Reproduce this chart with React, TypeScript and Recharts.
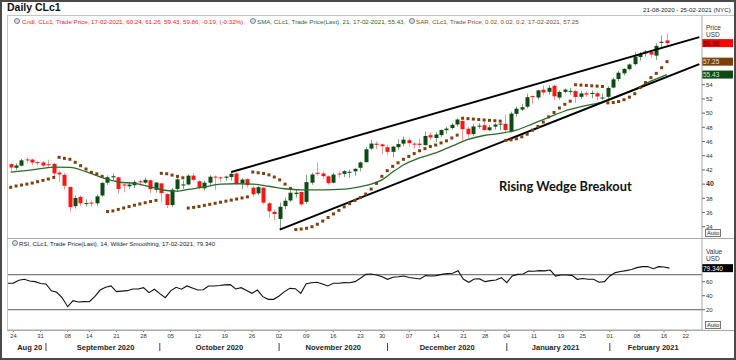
import React from "react";
import { Bar, ComposedChart, Line, ReferenceLine, XAxis, YAxis } from "recharts";

const FONT = '"Liberation Sans", Arial, sans-serif';

// trading days shown on the axis (last six are empty slots up to 25-02)
const AUG_20 = [21, 24, 25, 26, 27, 28, 31];
const SEP_20 = [1, 2, 3, 4, 8, 9, 10, 11, 14, 15, 16, 17, 18, 21, 22, 23, 24, 25, 28, 29, 30];
const OCT_20 = [1, 2, 5, 6, 7, 8, 9, 12, 13, 14, 15, 16, 19, 20, 21, 22, 23, 26, 27, 28, 29, 30];
const NOV_20 = [2, 3, 4, 5, 6, 9, 10, 11, 12, 13, 16, 17, 18, 19, 20, 23, 24, 25, 27, 30];
const DEC_20 = [1, 2, 3, 4, 7, 8, 9, 10, 11, 14, 15, 16, 17, 18, 21, 22, 23, 24, 28, 29, 30, 31];
const JAN_21 = [4, 5, 6, 7, 8, 11, 12, 13, 14, 15, 19, 20, 21, 22, 25, 26, 27, 28, 29];
const FEB_21 = [1, 2, 3, 4, 5, 8, 9, 10, 11, 12, 16, 17, 18, 19, 22, 23, 24, 25];

const pad = (n: number) => (n < 10 ? "0" + n : "" + n);
const DATES = [
  ...AUG_20.map((d) => `2020-08-${pad(d)}`),
  ...SEP_20.map((d) => `2020-09-${pad(d)}`),
  ...OCT_20.map((d) => `2020-10-${pad(d)}`),
  ...NOV_20.map((d) => `2020-11-${pad(d)}`),
  ...DEC_20.map((d) => `2020-12-${pad(d)}`),
  ...JAN_21.map((d) => `2021-01-${pad(d)}`),
  ...FEB_21.map((d) => `2021-02-${pad(d)}`),
];

const OPEN = [
  42.82, 42.3, 42.6, 43.48, 43.45, 43.1, 43.05, 42.8, 42.85, 41.62, 41.3, 39.6, 36.9, 38.2, 37.2, 37.4, 37.3, 38.4,
  40.2, 40.95, 40.95, 39.95, 39.7, 39.85, 40.4, 40.2, 40.55, 39.2, 40.1, 38.6, 37.05, 39.3, 39.8, 39.95, 41.2, 40.4,
  39.4, 40.2, 41.05, 40.95, 40.9, 41.0, 41.5, 40.1, 40.7, 39.5, 38.7, 39.5, 37.3, 36.1, 35.1, 36.9, 37.7, 38.6, 38.9,
  37.5, 40.2, 41.6, 41.5, 41.1, 40.2, 41.5, 41.45, 41.65, 41.8, 42.3, 43.1, 45.0, 45.7, 45.6, 45.2, 44.55, 45.2, 45.7,
  46.2, 45.7, 45.7, 45.5, 46.9, 46.5, 46.9, 47.6, 47.9, 48.4, 48.9, 47.8, 47.05, 48.1, 48.3, 47.6, 48.1, 48.4, 48.5,
  47.4, 49.9, 50.5, 50.9, 52.4, 52.2, 53.3, 53.0, 53.85, 52.2, 53.0, 53.05, 53.1, 52.3, 52.8, 52.7, 52.8, 52.15, 52.3,
  53.6, 54.8, 55.6, 56.2, 56.9, 57.9, 58.4, 58.6, 58.1, 59.9, 60.24,
];
const HIGH = [
  42.99, 42.95, 43.55, 43.78, 43.62, 43.27, 43.25, 43.44, 43.05, 41.9, 41.6, 39.65, 38.45, 38.4, 37.84, 37.71, 38.55,
  40.29, 41.22, 41.52, 41.05, 40.05, 40.35, 40.58, 40.6, 40.92, 40.62, 40.3, 40.2, 38.72, 39.44, 40.95, 40.5, 41.39,
  41.57, 40.55, 40.45, 41.25, 41.2, 41.05, 41.2, 41.75, 41.65, 40.85, 40.8, 39.7, 39.72, 39.6, 37.45, 36.4, 37.4, 38.1,
  39.15, 39.2, 38.95, 41.3, 41.6, 43.0, 41.8, 41.25, 41.62, 41.8, 42.0, 42.05, 42.3, 43.2, 45.2, 46.26, 46.0, 45.7,
  45.55, 45.4, 46.3, 46.7, 46.5, 45.95, 46.4, 47.4, 47.3, 47.3, 47.7, 48.1, 48.59, 49.28, 49.0, 48.1, 48.5, 48.6, 48.96,
  48.3, 48.6, 48.6, 49.83, 50.2, 50.9, 51.3, 52.75, 52.5, 53.3, 53.93, 53.93, 54.0, 53.2, 53.5, 53.55, 53.3, 53.15,
  53.1, 53.2, 53.0, 52.8, 53.8, 55.0, 55.95, 56.33, 57.0, 58.6, 58.6, 58.9, 58.8, 59.82, 60.95, 61.26,
];
const LOW = [
  41.89, 41.98, 42.47, 42.95, 42.62, 42.62, 42.43, 42.41, 41.2, 40.24, 39.21, 36.13, 36.56, 36.87, 36.86, 36.82, 36.96,
  38.2, 39.89, 40.56, 38.6, 38.9, 39.3, 39.45, 39.8, 40.04, 38.74, 38.8, 37.4, 36.63, 36.75, 38.95, 39.3, 39.8, 40.4,
  39.23, 39.1, 39.8, 39.2, 40.36, 40.5, 40.5, 39.85, 39.3, 39.48, 38.2, 38.45, 37.14, 35.3, 34.92, 33.64, 36.5, 37.5,
  38.1, 36.95, 37.2, 39.9, 41.2, 40.7, 39.9, 40.1, 40.9, 41.0, 40.9, 41.2, 41.8, 43.0, 44.8, 44.9, 44.24, 44.05, 43.8,
  44.8, 45.3, 45.25, 45.0, 45.1, 45.4, 46.2, 45.9, 46.6, 47.1, 47.7, 48.1, 46.16, 46.55, 46.8, 47.8, 47.5, 47.5, 47.7,
  47.6, 47.18, 47.26, 49.5, 50.3, 50.7, 51.3, 51.9, 52.5, 52.6, 51.85, 51.9, 52.8, 52.6, 51.44, 52.0, 52.3, 52.1, 51.83,
  51.86, 51.8, 53.5, 54.5, 55.3, 56.0, 56.7, 57.4, 57.95, 57.8, 57.5, 59.3, 59.43,
];
const CLOSE = [
  42.34, 42.62, 43.35, 43.39, 43.04, 42.97, 42.61, 42.76, 41.51, 41.37, 39.77, 36.76, 38.05, 37.3, 37.33, 37.26, 38.28,
  40.16, 40.97, 41.11, 39.31, 39.8, 39.93, 40.31, 40.25, 40.6, 39.29, 40.22, 38.72, 37.05, 39.22, 40.67, 39.95, 41.19,
  40.6, 39.43, 40.2, 41.04, 40.96, 40.88, 41.06, 41.45, 40.03, 40.64, 39.85, 38.56, 39.57, 37.39, 36.17, 35.79, 36.81,
  37.66, 38.79, 38.79, 37.14, 40.29, 41.36, 41.45, 41.12, 40.13, 41.34, 41.43, 41.82, 41.74, 42.15, 43.06, 44.91, 45.71,
  45.53, 45.34, 44.55, 45.28, 45.64, 46.26, 45.76, 45.6, 45.52, 46.78, 46.57, 46.99, 47.62, 47.82, 48.36, 49.1, 47.74,
  47.02, 48.12, 48.23, 47.62, 48.0, 48.4, 48.52, 47.62, 49.93, 50.63, 50.83, 52.24, 52.25, 53.21, 52.91, 53.57, 52.36,
  52.98, 53.31, 53.13, 52.27, 52.77, 52.61, 52.85, 52.34, 52.2, 53.55, 54.76, 55.69, 56.23, 56.85, 57.97, 58.36, 58.68,
  58.24, 59.47, 60.05, 59.86,
];

// parabolic SAR (0.02, 0.02, 0.2)
const SAR = [
  39.55, 39.73, 39.87, 40.0, 40.15, 40.34, 40.53, 40.72, 40.95, 43.78, 43.63, 43.5, 43.07, 42.6, 42.13, 41.66, 41.45,
  41.1, 36.13, 36.23, 36.44, 36.64, 36.84, 37.03, 37.21, 37.38, 37.55, 37.71, 41.52, 41.46, 41.27, 41.08, 40.89, 36.63,
  36.72, 36.85, 37.0, 37.15, 37.3, 37.45, 37.6, 37.75, 37.9, 38.05, 38.2, 41.7, 41.6, 41.5, 41.3, 41.0, 40.6, 40.0,
  39.4, 33.6, 33.68, 33.78, 34.0, 34.35, 34.8, 35.3, 35.8, 36.3, 36.8, 37.25, 37.7, 38.1, 38.6, 39.3, 40.1, 41.1,
  41.9, 42.5, 43.0, 43.5, 43.9, 44.3, 44.7, 45.0, 45.3, 45.5, 45.8, 46.1, 46.5, 46.9, 49.28, 49.22, 49.16, 49.1, 49.04,
  48.98, 48.93, 48.87, 46.16, 46.23, 46.39, 46.66, 47.03, 47.6, 48.12, 48.74, 49.47, 50.09, 50.72, 51.24, 51.68, 54.0,
  53.95, 53.9, 53.85, 53.8, 53.75, 51.44, 51.49, 51.63, 51.89, 52.25, 52.73, 53.6, 54.3, 55.0, 55.6, 56.4, 57.25,
];

const SMA_PTS: [number, number][] = [
  [0, 41.7], [4, 42.0], [8, 42.4], [11, 42.35], [14, 41.75], [17, 40.9], [20, 40.3], [23, 40.1], [26, 39.6],
  [29, 39.1], [31, 39.0], [33, 39.25], [36, 39.6], [39, 40.0], [42, 40.05], [45, 40.0], [48, 39.7], [51, 39.35],
  [54, 39.2], [58, 39.2], [62, 39.3], [65, 39.65], [67, 40.0], [69, 40.6], [71, 41.7], [73, 42.7], [76, 43.7],
  [79, 44.4], [82, 45.35], [85, 46.3], [88, 46.85], [91, 47.15], [94, 47.6], [97, 48.5], [100, 49.4], [103, 50.3],
  [106, 50.9], [110, 51.6], [113, 52.5], [116, 53.4], [119, 54.5], [122, 55.43],
];

// RSI 14, Wilder smoothing
const RSI = [
  57.7, 58.0, 62.0, 63.4, 61.0, 60.1, 57.5, 56.8, 47.0, 44.9, 37.0, 24.3, 33.0, 31.0, 31.5, 31.4, 38.6, 48.1, 52.0,
  53.9, 45.8, 46.5, 47.2, 49.6, 49.6, 51.5, 44.4, 49.2, 43.0, 37.2, 47.0, 52.0, 49.2, 53.9, 51.0, 48.1, 48.5, 53.9,
  53.9, 54.5, 55.4, 55.8, 49.6, 51.5, 47.5, 43.4, 48.1, 38.6, 34.8, 34.8, 39.6, 45.8, 50.5, 50.0, 43.4, 57.0, 58.5,
  59.2, 56.8, 53.9, 57.7, 57.7, 58.7, 58.5, 60.1, 64.9, 70.5, 71.0, 69.6, 67.0, 63.4, 66.3, 67.0, 68.2, 66.0, 64.9,
  63.9, 68.7, 68.2, 68.7, 70.5, 71.5, 72.0, 75.8, 63.4, 59.2, 63.9, 64.0, 60.1, 61.5, 62.5, 65.8, 58.7, 68.2, 70.5,
  71.0, 75.3, 75.0, 75.8, 75.5, 76.7, 68.0, 69.6, 69.6, 69.0, 63.4, 64.5, 63.4, 63.5, 59.2, 60.1, 68.2, 73.0, 74.5,
  75.8, 77.5, 80.1, 81.5, 81.8, 78.6, 81.5, 81.0, 79.34,
];

const PRICE_TICKS = [34, 36, 38, 40, 42, 44, 46, 48, 50, 52, 54];
const RSI_TICKS = [20, 40, 60];
const DAY_TICKS = [
  "2020-08-24", "2020-08-31", "2020-09-08", "2020-09-14", "2020-09-21", "2020-09-28", "2020-10-05", "2020-10-12",
  "2020-10-19", "2020-10-26", "2020-11-02", "2020-11-09", "2020-11-16", "2020-11-23", "2020-11-30", "2020-12-07",
  "2020-12-14", "2020-12-21", "2020-12-28", "2021-01-04", "2021-01-11", "2021-01-19", "2021-01-25", "2021-02-01",
  "2021-02-08", "2021-02-16", "2021-02-22",
];
const MONTH_STARTS = ["2020-09-01", "2020-10-01", "2020-11-02", "2020-12-01", "2021-01-04", "2021-02-01"];
const MONTH_LABELS: [string, string][] = [
  ["2020-08-27", "Aug 20"],
  ["2020-09-17", "September 2020"],
  ["2020-10-16", "October 2020"],
  ["2020-11-16", "November 2020"],
  ["2020-12-16", "December 2020"],
  ["2021-01-15", "January 2021"],
  ["2021-02-11", "February 2021"],
];

// wedge trendlines [date, price]
const WEDGE_UPPER: [string, number][] = [["2020-10-20", 41.7], ["2021-02-25", 60.7]];
const WEDGE_LOWER: [string, number][] = [["2020-11-02", 33.6], ["2021-02-25", 56.9]];

const rows = DATES.map((d, i) => {
  const sma = SMA_PTS.find((p) => p[0] === i);
  return {
    d,
    o: OPEN[i] ?? null,
    h: HIGH[i] ?? null,
    l: LOW[i] ?? null,
    c: CLOSE[i] ?? null,
    sar: SAR[i] ?? null,
    sma: sma ? sma[1] : null,
    rsi: RSI[i] ?? null,
  };
});

function Candle(props: any) {
  const { x, y, width, height, payload } = props;
  if (payload == null || payload.h == null) return <g />;
  const top = Math.min(y, y + height);
  const span = Math.abs(height);
  const k = span / (payload.h - payload.l || 1);
  const yO = top + (payload.h - payload.o) * k;
  const yC = top + (payload.h - payload.c) * k;
  const up = payload.c >= payload.o;
  const cx = Math.round(x + width / 2) + 0.5;
  return (
    <g>
      <line x1={cx} x2={cx} y1={top} y2={top + span} stroke={up ? "#7fa57f" : "#f59a9a"} strokeWidth={1} />
      <rect
        x={cx - 2}
        y={Math.min(yO, yC)}
        width={4}
        height={Math.max(1, Math.abs(yC - yO))}
        fill={up ? "#0d4a14" : "#ff1414"}
      />
    </g>
  );
}

function SarDot(props: any) {
  const { cx, cy, index } = props;
  if (cy == null || props.value == null) return <g key={index} />;
  return <rect key={index} x={cx - 1.5} y={cy - 1.5} width={3} height={3} fill="#7d410f" />;
}

function PriceTick({ x, y, payload }: any) {
  const bold = payload.value === 40;
  return (
    <text x={x} y={y} dy={2.2} textAnchor="start" fontFamily={FONT} fontSize={bold ? 7 : 6} fontWeight={bold ? 700 : 400} fill="#333">
      {payload.value}
    </text>
  );
}

function RsiTick({ x, y, payload }: any) {
  return (
    <text x={x} y={y} dy={2.2} textAnchor="start" fontFamily={FONT} fontSize={6} fill="#333">
      {payload.value}
    </text>
  );
}

function DayTick({ x, y, payload }: any) {
  return (
    <text x={x} y={y} dy={5} textAnchor="middle" fontFamily={FONT} fontSize={5.8} fill="#333">
      {String(payload.value).slice(8)}
    </text>
  );
}

function MonthTick({ x, y, payload }: any) {
  if (MONTH_STARTS.includes(payload.value)) {
    return <line x1={x} x2={x} y1={y + 1} y2={y + 9} stroke="#444" strokeWidth={1} />;
  }
  const lab = MONTH_LABELS.find((m) => m[0] === payload.value);
  return (
    <text x={x} y={y} dy={7.5} textAnchor="middle" fontFamily={FONT} fontSize={7.5} fontWeight={700} fill="#222">
      {lab ? lab[1] : ""}
    </text>
  );
}

function Badge({ viewBox, text, fill, color }: any) {
  if (!viewBox) return null;
  const bx = viewBox.x + viewBox.width;
  const by = viewBox.y;
  return (
    <g>
      <rect x={bx} y={by - 4} width={31} height={8} fill={fill} />
      <text x={bx + 1} y={by + 2.4} fontFamily={FONT} fontSize={6.5} fill={color}>
        {text}
      </text>
    </g>
  );
}

const abs = (left: number, top: number, extra: React.CSSProperties = {}): React.CSSProperties => ({
  position: "absolute",
  left,
  top,
  whiteSpace: "nowrap",
  fontFamily: FONT,
  lineHeight: 1,
  ...extra,
});

function Icon({ left, top }: { left: number; top: number }) {
  return (
    <div
      style={abs(left, top, {
        width: 4,
        height: 4,
        borderRadius: "50%",
        border: "1px solid #7a8290",
        background: "#d8dde6",
      })}
    />
  );
}

function AutoBox({ left, top }: { left: number; top: number }) {
  return (
    <div
      style={abs(left, top, {
        fontSize: 6,
        border: "1px solid #777",
        padding: "0 1px",
        color: "#333",
        background: "#f4f4f4",
        height: 6,
        lineHeight: "6px",
      })}
    >
      Auto
    </div>
  );
}

export default function App() {
  return (
    <div style={{ position: "relative", width: 736, height: 360, background: "#fff", overflow: "hidden" }}>
      <style>{`body{margin:0}`}</style>

      <div style={{ position: "absolute", left: 0, top: 0 }}>
        <ComposedChart width={736} height={239} data={rows} margin={{ top: 16, right: 0, bottom: 0, left: 8 }}>
          <XAxis dataKey="d" hide />
          <YAxis
            orientation="right"
            width={34}
            domain={[32.27, 63.68]}
            allowDataOverflow
            ticks={PRICE_TICKS}
            interval={0}
            tick={<PriceTick />}
            tickSize={3}
            tickMargin={1}
            axisLine={{ stroke: "#a8a8a8" }}
            tickLine={{ stroke: "#666" }}
          />
          <Bar
            dataKey={(r: any) => (r.h == null ? null : [r.l, r.h])}
            shape={<Candle />}
            isAnimationActive={false}
          />
          <Line dataKey="sma" stroke="#2c6a2c" strokeWidth={1.3} dot={false} connectNulls type="monotone" isAnimationActive={false} />
          <Line dataKey="sar" stroke="none" dot={SarDot} activeDot={false} isAnimationActive={false} />
          <ReferenceLine
            segment={WEDGE_UPPER.map(([x, y]) => ({ x, y }))}
            stroke="#000"
            strokeWidth={2}
            ifOverflow="visible"
          />
          <ReferenceLine
            segment={WEDGE_LOWER.map(([x, y]) => ({ x, y }))}
            stroke="#000"
            strokeWidth={2}
            ifOverflow="visible"
          />
          <ReferenceLine y={59.86} stroke="none" label={<Badge text="59.86" fill="#ff0000" color="#3a0000" />} />
          <ReferenceLine y={57.25} stroke="none" label={<Badge text="57.25" fill="#7b3f0c" color="#f2e2d2" />} />
          <ReferenceLine y={55.43} stroke="none" label={<Badge text="55.43" fill="#0b4a12" color="#d8e8d8" />} />
        </ComposedChart>
      </div>

      <div style={{ position: "absolute", left: 0, top: 239 }}>
        <ComposedChart width={736} height={121} data={rows} margin={{ top: 0, right: 0, bottom: 2, left: 8 }}>
          <XAxis
            dataKey="d"
            ticks={DAY_TICKS}
            interval={0}
            height={12}
            tick={<DayTick />}
            tickSize={2}
            tickMargin={1}
            axisLine={{ stroke: "#a8a8a8" }}
            tickLine={{ stroke: "#777" }}
          />
          <XAxis
            xAxisId="m"
            dataKey="d"
            ticks={[...MONTH_STARTS, ...MONTH_LABELS.map((m) => m[0])]}
            interval={0}
            height={16}
            tick={<MonthTick />}
            tickSize={0}
            tickMargin={0}
            axisLine={false}
            tickLine={false}
          />
          <YAxis
            orientation="right"
            width={34}
            domain={[-9, 121]}
            allowDataOverflow
            ticks={RSI_TICKS}
            interval={0}
            tick={<RsiTick />}
            tickSize={3}
            tickMargin={1}
            axisLine={{ stroke: "#a8a8a8" }}
            tickLine={{ stroke: "#666" }}
          />
          <ReferenceLine y={70} stroke="#7c7c7c" strokeWidth={1.2} />
          <ReferenceLine y={20} stroke="#7c7c7c" strokeWidth={1.2} />
          <Line dataKey="rsi" stroke="#111" strokeWidth={1.1} dot={false} type="linear" isAnimationActive={false} />
          <ReferenceLine y={79.34} stroke="none" label={<Badge text="79.340" fill="#000" color="#fff" />} />
        </ComposedChart>
      </div>

      {/* panel frame */}
      <div style={{ position: "absolute", left: 7, top: 15, width: 727, height: 1, background: "#c4c4c4" }} />
      <div style={{ position: "absolute", left: 7, top: 15, width: 1, height: 316, background: "#c4c4c4" }} />
      <div style={{ position: "absolute", left: 7, top: 238, width: 727, height: 1, background: "#a8a8a8" }} />
      <div style={{ position: "absolute", left: 7, top: 330, width: 727, height: 1, background: "#a8a8a8" }} />

      <div style={abs(7, 2, { fontSize: 10.5, fontWeight: 700, color: "#111" })}>Daily CLc1</div>
      <div style={abs(643, 7, { fontSize: 6.2, color: "#222" })}>21-08-2020 - 25-02-2021 (NYC)</div>

      <Icon left={14} top={18} />
      <div style={abs(22, 19, { fontSize: 6.2, color: "#ff1a1a" })}>
        Cndl, CLc1, Trade Price, 17-02-2021, 60.24, 61.26, 59.43, 59.86, -0.19, (-0.32%),
      </div>
      <Icon left={250} top={18} />
      <div style={abs(257, 19, { fontSize: 6.2, color: "#1f6a1f" })}>
        SMA, CLc1, Trade Price(Last), 21, 17-02-2021, 55.43,
      </div>
      <Icon left={409} top={18} />
      <div style={abs(416, 19, { fontSize: 6.2, color: "#8a4a14" })}>
        SAR, CLc1, Trade Price, 0.02, 0.02, 0.2, 17-02-2021, 57.25
      </div>

      <div style={abs(706, 25, { fontSize: 6.5, color: "#333" })}>Price</div>
      <div style={abs(706, 32, { fontSize: 6.5, color: "#333" })}>USD</div>
      <AutoBox left={705} top={229} />

      <Icon left={12} top={240} />
      <div style={abs(19, 241, { fontSize: 6.1, color: "#222" })}>
        RSI, CLc1, Trade Price(Last), 14, Wilder Smoothing, 17-02-2021, 79.340
      </div>
      <div style={abs(706, 249, { fontSize: 6.5, color: "#333" })}>Value</div>
      <div style={abs(706, 256, { fontSize: 6.5, color: "#333" })}>USD</div>
      <AutoBox left={705} top={321} />

      <div style={abs(499, 180, { fontFamily: "Lato, sans-serif", fontSize: 12.8, fontWeight: 700, color: "#111" })}>
        Rising Wedge Breakout
      </div>

      <div
        style={{
          position: "absolute",
          left: 0,
          top: 0,
          width: 736,
          height: 360,
          boxSizing: "border-box",
          border: "2px solid #4a4a4a",
          pointerEvents: "none",
        }}
      />
    </div>
  );
}
